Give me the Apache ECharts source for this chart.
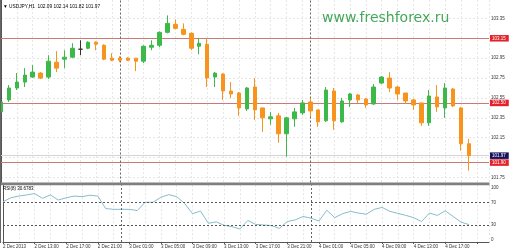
<!DOCTYPE html>
<html><head><meta charset="utf-8">
<script src="https://cdn.jsdelivr.net/npm/echarts@6/dist/echarts.min.js"></script>
<style>html,body{margin:0;padding:0;background:#fff;}#c{width:510px;height:252px;}</style>
</head><body><div id="c"></div>
<script>
const symbolName = 'USDJPY,H1';
const lastBar = ['102.09', '102.14', '101.82', '101.97'];
const siteName = 'www.freshforex.ru';
const rsiTitle = 'RSI(8) 30.6783';

const opens  = [102.41,102.53,102.65,102.71,102.76,102.80,102.76,102.91,102.94,102.96,
                103.04,103.05,103.11,103.08,102.95,102.95,102.95,102.95,102.92,103.06,
                103.08,103.21,103.29,103.24,103.20,103.07,103.09,102.76,102.79,102.62,
                102.60,102.44,102.66,102.45,102.34,102.37,102.19,102.34,102.40,102.51,
                102.43,102.32,102.62,102.31,102.53,102.58,102.54,102.49,102.70,102.75,
                102.66,102.60,102.53,102.50,102.30,102.56,102.45,102.64,102.45,102.09];
const closes = [102.51,102.65,102.71,102.78,102.81,102.75,102.92,102.85,102.96,103.05,
                103.04,103.11,103.09,102.94,102.93,102.93,102.93,102.92,103.07,103.08,
                103.21,103.30,103.25,103.19,103.05,103.10,102.75,102.80,102.62,102.59,
                102.45,102.65,102.43,102.35,102.36,102.19,102.35,102.41,102.50,102.42,
                102.31,102.63,102.32,102.52,102.59,102.53,102.48,102.66,102.76,102.65,
                102.59,102.52,102.48,102.30,102.57,102.46,102.65,102.47,102.09,101.97];
const lows   = [102.40,102.51,102.63,102.66,102.75,102.74,102.74,102.81,102.85,102.95,
                102.98,103.04,103.03,102.93,102.92,102.91,102.92,102.82,102.90,103.03,
                103.06,103.20,103.24,103.18,103.03,102.99,102.66,102.66,102.53,102.55,
                102.37,102.42,102.33,102.21,102.28,102.10,101.96,102.26,102.38,102.36,
                102.26,102.31,102.23,102.30,102.46,102.50,102.45,102.48,102.69,102.61,
                102.53,102.49,102.43,102.27,102.27,102.41,102.35,102.46,102.02,101.82];
const highs  = [102.52,102.68,102.80,102.85,102.88,102.81,102.98,103.02,103.03,103.10,
                103.13,103.12,103.12,103.09,103.00,102.97,102.96,102.95,103.08,103.13,
                103.22,103.38,103.34,103.30,103.21,103.15,103.15,102.81,102.80,102.71,
                102.61,102.66,102.75,102.45,102.41,102.40,102.36,102.45,102.53,102.55,
                102.43,102.66,102.65,102.55,102.60,102.59,102.55,102.69,102.77,102.81,
                102.67,102.60,102.54,102.50,102.63,102.68,102.70,102.65,102.46,102.14];
const rsiValues = [71,78,81,83,85.5,77,83,74,78,81,
                   80,82.5,81,59,57.6,57.6,57.6,55.5,70,70,
                   79,83.5,80,68,50,54.6,33,35.5,29.5,27,
                   23,38,31,30,29,24,36,39,45,42,
                   37,56,43,50,54,51,49,57.5,61,54,
                   50.5,47,43,36,51,47,55,45,35,30.68];
const timeLabels = ['2 Dec 2013','2 Dec 13:00','2 Dec 17:00','2 Dec 21:00','3 Dec 01:00',
                    '3 Dec 05:00','3 Dec 09:00','3 Dec 13:00','3 Dec 17:00','3 Dec 21:00',
                    '4 Dec 01:00','4 Dec 05:00','4 Dec 09:00','4 Dec 13:00','4 Dec 17:00'];
const priceTicks = [101.75,101.95,102.15,102.35,102.55,102.75,102.95,103.15,103.35];
const levelLines = [103.15, 102.50, 101.90];
const bidPrice = 101.97;
const daySeparators = [15, 39];
const rsiLevels = [30, 70];
const rsiTicks = [0, 30, 70, 100];

const FONT = 'Liberation Sans, Arial, sans-serif';
const GREEN = '#3db94a', ORANGE = '#f7941d', DOJI = '#333333';
const gridLine = { show: true, lineStyle: { color: '#e6e6e6', width: 1, type: [2, 2] } };

const candleData = opens.map((o, i) => {
  const item = { value: [i, o, closes[i], lows[i], highs[i]] };
  if (o === closes[i]) item.itemStyle = { color: DOJI, color0: DOJI, borderColor: DOJI, borderColor0: DOJI, borderColorDoji: DOJI };
  return item;
});
const rsiData = rsiValues.map((v, i) => [i, v]);

const chart = echarts.init(document.getElementById('c'), null, { renderer: 'canvas' });
const xMax = 61.54;
chart.setOption({
  animation: false,
  grid: [
    { left: 1, top: 0, width: 488, height: 182.5 },
    { left: 1, top: 185.3, width: 488, height: 56.7 }
  ],
  xAxis: [
    { gridIndex: 0, type: 'value', min: 0, max: xMax, interval: 4,
      axisLine: { show: false }, axisTick: { show: false }, axisLabel: { show: false },
      splitLine: gridLine, minorTick: { show: false, splitNumber: 2 }, minorSplitLine: gridLine },
    { gridIndex: 1, type: 'value', min: 0, max: xMax, interval: 4,
      axisLine: { show: true, onZero: false, lineStyle: { color: '#555', width: 1 } },
      axisTick: { show: true, length: 2, lineStyle: { color: '#555' } },
      axisLabel: { show: true, showMaxLabel: false, align: 'left', margin: 2, fontSize: 4.5, fontFamily: FONT, color: '#333',
        formatter: v => { const k = Math.round(v); return (k % 4 === 0 && timeLabels[k / 4]) || ''; } },
      splitLine: gridLine, minorTick: { show: false, splitNumber: 2 }, minorSplitLine: gridLine }
  ],
  yAxis: [
    { gridIndex: 0, type: 'value', position: 'right', min: 101.70, max: 103.535,
      axisLine: { show: true, lineStyle: { color: '#555', width: 1 } },
      axisTick: { show: false, customValues: priceTicks },
      axisLabel: { customValues: priceTicks, formatter: v => v.toFixed(2), margin: 2, fontSize: 4.5, fontFamily: FONT, color: '#333' },
      splitLine: gridLine },
    { gridIndex: 1, type: 'value', position: 'right', min: 0, max: 100,
      axisLine: { show: true, lineStyle: { color: '#555', width: 1 } },
      axisTick: { show: false, customValues: rsiTicks },
      axisLabel: { customValues: rsiTicks, margin: 2, fontSize: 4.5, fontFamily: FONT, color: '#333',
        verticalAlignMaxLabel: 'top', verticalAlignMinLabel: 'bottom' },
      splitLine: { show: false } }
  ],
  series: [
    { type: 'candlestick', xAxisIndex: 0, yAxisIndex: 0, barWidth: 4, clip: false, z: 3,
      itemStyle: { color: GREEN, color0: ORANGE, borderColor: GREEN, borderColor0: ORANGE, borderColorDoji: DOJI, borderWidth: 1 },
      data: candleData,
      markLine: {
        silent: true, symbol: ['none', 'none'], z: 2, animation: false,
        label: { position: 'end', distance: 1, fontSize: 4.5, fontFamily: FONT, padding: [1, 3, 0.5, 2] },
        data: [
          ...levelLines.map(v => ({ yAxis: v, lineStyle: { color: '#c97a74', width: 1.2, type: 'solid' },
              label: { formatter: v.toFixed(2), backgroundColor: '#e3232b', color: '#fff' } })),
          { yAxis: bidPrice, lineStyle: { color: '#d4d4d4', width: 1, type: 'solid' },
              label: { formatter: bidPrice.toFixed(2), backgroundColor: '#14145e', color: '#fff' } },
          ...daySeparators.map(k => ({ xAxis: k, lineStyle: { color: '#666', width: 1, type: [2, 2] }, label: { show: false } }))
        ]
      } },
    { type: 'line', xAxisIndex: 1, yAxisIndex: 1, data: rsiData, showSymbol: false, symbol: 'none',
      lineStyle: { color: '#86bccb', width: 1 },
      markLine: {
        silent: true, symbol: ['none', 'none'], animation: false, label: { show: false },
        data: [
          ...rsiLevels.map(v => ({ yAxis: v, lineStyle: { color: '#555', width: 1, type: [2, 2] } })),
          ...daySeparators.map(k => ({ xAxis: k, lineStyle: { color: '#666', width: 1, type: [2, 2] } }))
        ]
      } }
  ],
  graphic: [
    { type: 'rect', shape: { x: 0, y: 182.5, width: 489.5, height: 2.7 }, style: { fill: '#7f7f7f' }, z: 10 },
    { type: 'line', shape: { x1: 0.5, y1: 0, x2: 0.5, y2: 243 }, style: { stroke: '#666', lineWidth: 1 }, z: 10 },
    { type: 'text', left: 3, top: 4, z: 10,
      style: { text: '\u25BC ' + symbolName + '  ' + lastBar.join(' '), fontSize: 4.8, fontFamily: FONT, fill: '#000' } },
    { type: 'text', left: 3, top: 186.5, z: 10,
      style: { text: rsiTitle, fontSize: 4.5, fontFamily: FONT, fill: '#000' } },
    { type: 'text', left: 322, top: 11, z: 10,
      style: { text: siteName, fontSize: 14, fontFamily: 'DejaVu Sans, Verdana, sans-serif', fill: '#45a85a' } }
  ]
});
</script></body></html>
